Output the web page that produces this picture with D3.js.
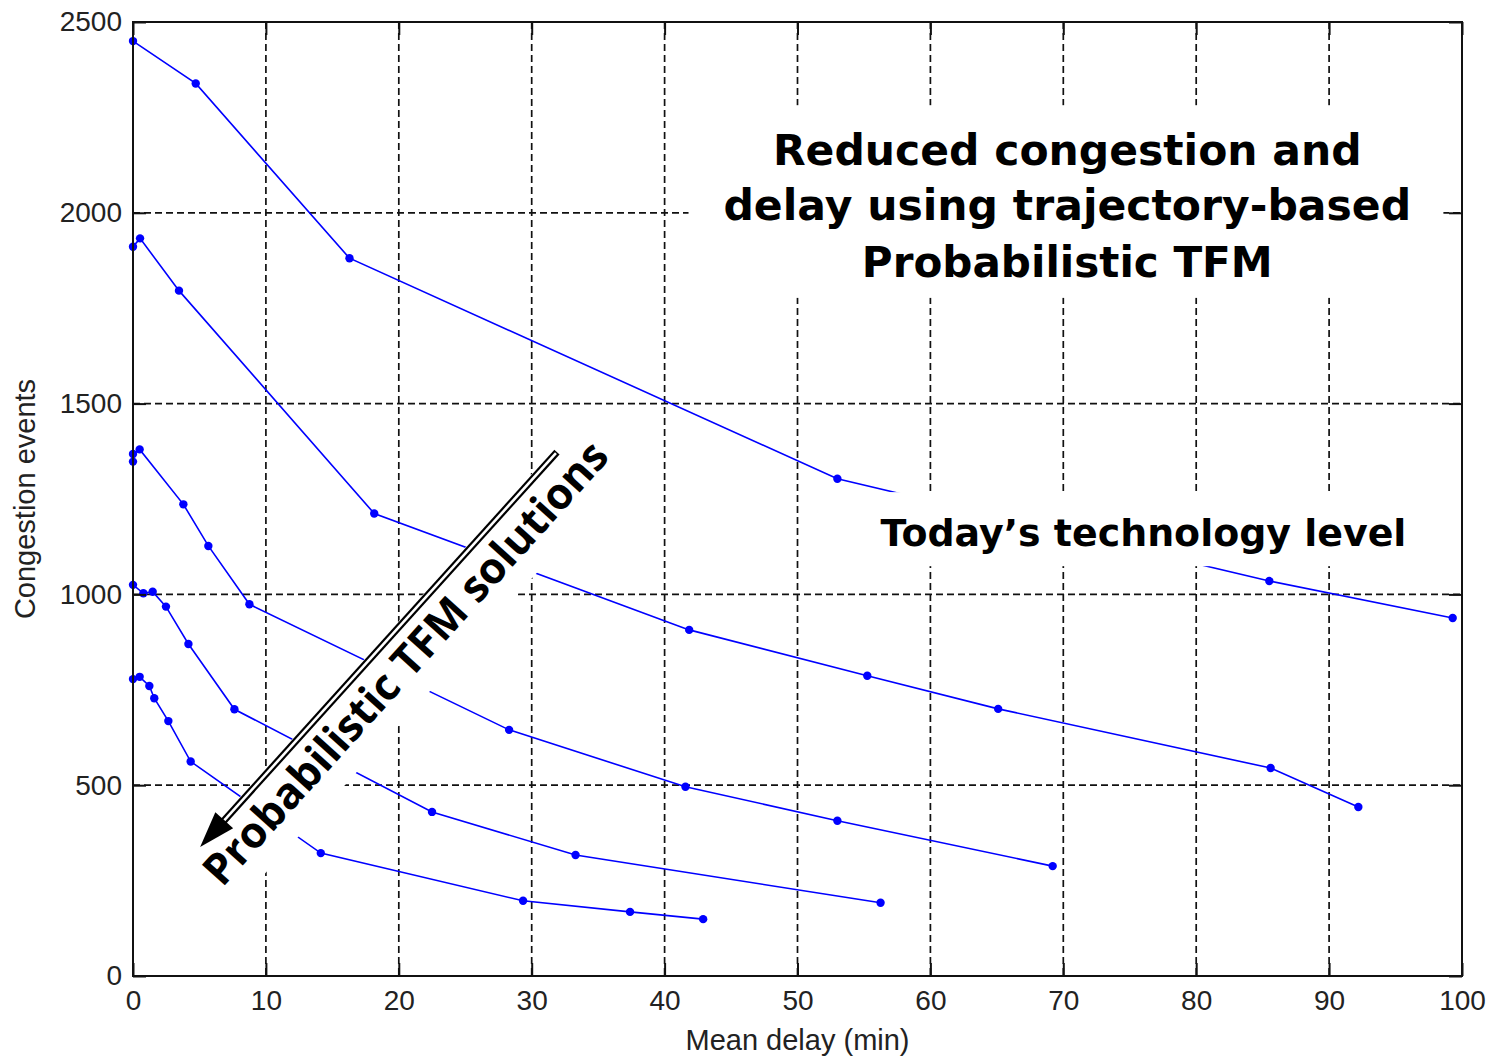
<!DOCTYPE html>
<html><head><meta charset="utf-8">
<script src="https://cdn.jsdelivr.net/npm/d3@7"></script>
<style>html,body{margin:0;padding:0;background:#fff;} svg{display:block}</style>
</head><body>
<svg id="chart" width="1489" height="1057"></svg>
<script>
// ---- data ----
const xTicks = [0, 10, 20, 30, 40, 50, 60, 70, 80, 90, 100];
const yTicks = [0, 500, 1000, 1500, 2000, 2500];
const xLabel = "Mean delay (min)";
const yLabel = "Congestion events";

const delayA  = [0, 4.72, 16.29, 53.0, 85.5, 99.3];
const eventsA = [2450, 2339, 1881, 1303, 1035, 938];
const delayB  = [0, 0.53, 3.46, 18.15, 41.85, 55.25, 65.1, 85.6, 92.2];
const eventsB = [1911, 1933, 1796, 1212, 907, 787, 700, 545, 443];
const delayC  = [0, 0, 0.5, 3.79, 5.67, 8.76, 28.3, 41.57, 53.0, 69.2];
const eventsC = [1348, 1368, 1380, 1236, 1127, 974, 645, 496, 407, 288];
const delayD  = [0, 0.78, 1.48, 2.48, 4.17, 7.63, 22.5, 33.3, 56.25];
const eventsD = [1025, 1003, 1007, 968, 870, 699, 430, 317, 192];
const delayE  = [0, 0.5, 1.23, 1.6, 2.66, 4.34, 14.13, 29.35, 37.4, 42.9];
const eventsE = [778, 784, 760, 728, 668, 562, 322, 197, 168, 149];

const titleLines = ["Reduced congestion and", "delay using trajectory-based", "Probabilistic TFM"];
const todayText = "Today\u2019s technology level";
const arrowText = "Probabilistic TFM solutions";

const series = [
  [delayA, eventsA], [delayB, eventsB], [delayC, eventsC], [delayD, eventsD], [delayE, eventsE]
].map(([xs, ys]) => xs.map((v, i) => ({x: v, y: ys[i]})));

// ---- layout ----
const svg = d3.select("#chart");
const L = 133, R = 1462, T = 22, B = 976;
const x = d3.scaleLinear().domain([0, 100]).range([L, R]);
const y = d3.scaleLinear().domain([0, 2500]).range([B, T]);
const tickLen = 13;
const labelFont = "'Liberation Sans', Arial, sans-serif";
const boldFont = "'DejaVu Sans', Verdana, sans-serif";
const arrowFont = "'Open Sans', 'DejaVu Sans', sans-serif";

function fit(sel, target) {
  const w = sel.node().getComputedTextLength();
  const fs = parseFloat(sel.attr("font-size"));
  sel.attr("font-size", fs * target / w);
}

// grid
const grid = svg.append("g").attr("stroke", "#111").attr("stroke-width", 1.7)
  .attr("stroke-dasharray", "7,4");
grid.selectAll("line.v").data(xTicks.filter(d => d > 0 && d < 100)).join("line")
  .attr("class", "v")
  .attr("x1", d => x(d)).attr("x2", d => x(d)).attr("y1", T).attr("y2", B);
grid.selectAll("line.h").data(yTicks.filter(d => d > 0 && d < 2500)).join("line")
  .attr("class", "h")
  .attr("y1", d => y(d)).attr("y2", d => y(d)).attr("x1", L).attr("x2", R);

// series
const line = d3.line().x(d => x(d.x)).y(d => y(d.y));
const sg = svg.append("g");
series.forEach(s => {
  sg.append("path").datum(s).attr("d", line).attr("fill", "none")
    .attr("stroke", "#0000ff").attr("stroke-width", 1.6);
  sg.selectAll(null).data(s).join("circle")
    .attr("cx", d => x(d.x)).attr("cy", d => y(d.y)).attr("r", 4.2).attr("fill", "#0000ff");
});

// ---- annotations ----
const ann = svg.append("g");
ann.append("rect").attr("x", x(41.8)).attr("y", y(2282))
  .attr("width", x(98.6) - x(41.8)).attr("height", y(1777) - y(2282)).attr("fill", "#fff");
const titleBase = [2125, 1981, 1832];
const titleWidths = [589, 688, 411];
titleLines.forEach((t, i) => {
  const tx = ann.append("text").attr("x", x(70.3)).attr("y", y(titleBase[i]))
    .attr("text-anchor", "middle").attr("font-family", boldFont).attr("font-weight", "bold")
    .attr("font-size", 44).attr("fill", "#000").text(t);
  fit(tx, titleWidths[i]);
});

ann.append("rect").attr("x", x(54.4)).attr("y", y(1268))
  .attr("width", x(98.2) - x(54.4)).attr("height", y(1074) - y(1268)).attr("fill", "#fff");
const td = ann.append("text").attr("x", x(56.25)).attr("y", y(1127))
  .attr("font-family", boldFont).attr("font-weight", "bold").attr("font-size", 38)
  .attr("fill", "#000").text(todayText);
fit(td, 526);

// arrow with rotated label
const A = [x(31.9), y(1373)], Tip = [x(5.05), y(338)];
const len = Math.hypot(Tip[0] - A[0], Tip[1] - A[1]);
const dv = [(Tip[0] - A[0]) / len, (Tip[1] - A[1]) / len];
const nv = [-dv[1], dv[0]];
if (nv[0] < 0) { nv[0] = -nv[0]; nv[1] = -nv[1]; }
const P = (t, n) => [A[0] + t * dv[0] + n * nv[0], A[1] + t * dv[1] + n * nv[1]];
const box = [P(-45, -4), P(560, -4), P(560, 66), P(-45, 66)];
ann.append("polygon").attr("points", box.map(p => p.join(",")).join(" ")).attr("fill", "#fff");

const ang = Math.atan2(-dv[1], -dv[0]) * 180 / Math.PI;
const p0 = P(548, 44);
const at = ann.append("text").attr("transform", `translate(${p0[0]},${p0[1]}) rotate(${ang})`)
  .attr("font-family", arrowFont).attr("font-weight", "bold").attr("font-size", 44)
  .attr("fill", "#000").text(arrowText);
fit(at, 580);

const headLen = 36, headHalf = 12;
const s0 = P(0, 0), s1 = P(len - headLen + 2, 0);
ann.append("line").attr("x1", s0[0]).attr("y1", s0[1]).attr("x2", s1[0]).attr("y2", s1[1])
  .attr("stroke", "#000").attr("stroke-width", 7);
const w0 = P(1.5, 0), w1 = P(len - headLen, 0);
ann.append("line").attr("x1", w0[0]).attr("y1", w0[1]).attr("x2", w1[0]).attr("y2", w1[1])
  .attr("stroke", "#fff").attr("stroke-width", 2.6);
const h1 = P(len - headLen, -headHalf), h2 = P(len - headLen, headHalf), h3 = P(len, 0);
ann.append("polygon").attr("points", [h1, h2, h3].map(p => p.join(",")).join(" ")).attr("fill", "#000");

// ---- axes ----
const fmt = d3.format("d");
svg.append("g").attr("transform", `translate(0,${B})`)
  .call(d3.axisBottom(x).tickValues(xTicks).tickFormat(fmt).tickSize(-tickLen).tickSizeOuter(0).tickPadding(14));
svg.append("g").attr("transform", `translate(${L},0)`)
  .call(d3.axisLeft(y).tickValues(yTicks).tickFormat(fmt).tickSize(-tickLen).tickSizeOuter(0).tickPadding(11));
svg.append("g").attr("transform", `translate(0,${T})`)
  .call(d3.axisTop(x).tickValues(xTicks).tickSize(-tickLen).tickSizeOuter(0).tickFormat(""));
svg.append("g").attr("transform", `translate(${R},0)`)
  .call(d3.axisRight(y).tickValues(yTicks).tickSize(-tickLen).tickSizeOuter(0).tickFormat(""));
svg.selectAll(".domain").remove();
svg.selectAll(".tick line").attr("stroke", "#111").attr("stroke-width", 2);
svg.selectAll(".tick text").attr("font-family", labelFont).attr("font-size", 28).attr("fill", "#222");
svg.append("rect").attr("x", L).attr("y", T).attr("width", R - L).attr("height", B - T)
  .attr("fill", "none").attr("stroke", "#111").attr("stroke-width", 2);

// axis titles
svg.append("text").attr("x", (L + R) / 2).attr("y", 1050).attr("text-anchor", "middle")
  .attr("font-family", labelFont).attr("font-size", 29).attr("fill", "#222").text(xLabel);
svg.append("text").attr("transform", `translate(35,${(T + B) / 2}) rotate(-90)`)
  .attr("text-anchor", "middle").attr("font-family", labelFont).attr("font-size", 29)
  .attr("fill", "#222").text(yLabel);
</script>
</body></html>
